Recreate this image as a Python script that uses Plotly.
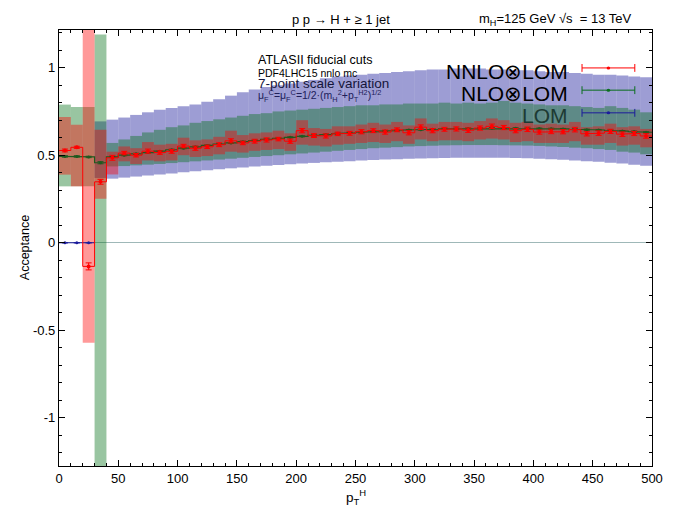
import numpy as np
import plotly.graph_objects as go

# ---------------- data ----------------
bin_edges = list(range(0, 510, 10))  # 0..500, 10 GeV bins
bin_centers = [e + 5 for e in bin_edges[:-1]]

nlo_center = [0.493, 0.493, 0.490, 0.457, 0.490, 0.500, 0.508, 0.515, 0.523, 0.531,
              0.540, 0.548, 0.556, 0.563, 0.570, 0.577, 0.584, 0.590, 0.596, 0.602,
              0.608, 0.613, 0.618, 0.623, 0.627, 0.631, 0.635, 0.638, 0.641, 0.644,
              0.646, 0.648, 0.650, 0.651, 0.652, 0.653, 0.654, 0.654, 0.654, 0.653,
              0.652, 0.651, 0.650, 0.648, 0.646, 0.644, 0.641, 0.638, 0.635, 0.631]
nlo_err = [0.004] * 3 + [0.006] + [0.003] * 46

nnlo_center = [0.527, 0.545, -0.135, 0.348, 0.485, 0.512, 0.500, 0.523, 0.515, 0.522,
               0.552, 0.540, 0.548, 0.560, 0.582, 0.570, 0.580, 0.587, 0.592, 0.580,
               0.640, 0.612, 0.610, 0.622, 0.625, 0.634, 0.640, 0.632, 0.645, 0.628,
               0.660, 0.640, 0.648, 0.650, 0.643, 0.655, 0.665, 0.658, 0.640, 0.648,
               0.632, 0.636, 0.634, 0.646, 0.622, 0.626, 0.636, 0.620, 0.624, 0.610]
nnlo_err = [0.008, 0.006, 0.020, 0.014, 0.014, 0.010, 0.010, 0.012, 0.010, 0.011,
            0.010, 0.012, 0.010, 0.011, 0.012, 0.010, 0.011, 0.012, 0.010, 0.012,
            0.012, 0.011, 0.012, 0.010, 0.011, 0.012, 0.011, 0.012, 0.011, 0.012,
            0.013, 0.012, 0.011, 0.012, 0.013, 0.012, 0.013, 0.012, 0.012, 0.013,
            0.012, 0.013, 0.012, 0.013, 0.012, 0.013, 0.012, 0.013, 0.012, 0.013]
nnlo_hi = [0.718, 0.674, 1.40, 0.646, 0.52, 0.55, 0.54, 0.575, 0.56, 0.565,
           0.60, 0.585, 0.59, 0.605, 0.64, 0.615, 0.625, 0.63, 0.64, 0.625,
           0.70, 0.655, 0.65, 0.665, 0.665, 0.675, 0.685, 0.675, 0.69, 0.67,
           0.71, 0.68, 0.69, 0.69, 0.685, 0.695, 0.71, 0.70, 0.685, 0.69,
           0.675, 0.68, 0.675, 0.69, 0.66, 0.665, 0.68, 0.66, 0.665, 0.65]
nnlo_lo = [0.389, 0.322, -0.571, 0.251, 0.39, 0.465, 0.45, 0.47, 0.465, 0.47,
           0.50, 0.49, 0.495, 0.505, 0.52, 0.515, 0.525, 0.53, 0.535, 0.525,
           0.56, 0.555, 0.55, 0.56, 0.565, 0.57, 0.575, 0.57, 0.58, 0.565,
           0.59, 0.58, 0.585, 0.585, 0.58, 0.59, 0.595, 0.59, 0.575, 0.58,
           0.57, 0.57, 0.57, 0.58, 0.56, 0.56, 0.57, 0.555, 0.56, 0.545]

nlo_hi = [0.789, 0.775, 0.775, 1.19, 0.57, 0.59, 0.61, 0.63, 0.645, 0.66,
          0.67, 0.685, 0.695, 0.705, 0.715, 0.725, 0.735, 0.74, 0.75, 0.755,
          0.76, 0.765, 0.77, 0.775, 0.78, 0.785, 0.785, 0.79, 0.79, 0.795,
          0.795, 0.795, 0.80, 0.795, 0.80, 0.795, 0.80, 0.81, 0.80, 0.795,
          0.79, 0.785, 0.785, 0.78, 0.775, 0.77, 0.78, 0.77, 0.76, 0.745]
nlo_lo = [0.322, 0.322, 0.322, -1.40, 0.436, 0.438, 0.442, 0.446, 0.45, 0.455,
          0.46, 0.465, 0.47, 0.475, 0.48, 0.485, 0.49, 0.495, 0.50, 0.505,
          0.51, 0.515, 0.52, 0.525, 0.53, 0.535, 0.54, 0.543, 0.546, 0.55,
          0.552, 0.554, 0.556, 0.557, 0.558, 0.558, 0.558, 0.557, 0.556, 0.555,
          0.553, 0.55, 0.547, 0.543, 0.54, 0.535, 0.53, 0.52, 0.515, 0.505]

lom_center = [0.0, 0.0, 0.0] + [None] * 47
lom_hi = [None, None, None, 0.693, 0.703, 0.715, 0.73, 0.745, 0.76, 0.77,
          0.78, 0.79, 0.805, 0.82, 0.84, 0.86, 0.875, 0.89, 0.90, 0.91,
          0.92, 0.93, 0.94, 0.95, 0.955, 0.96, 0.965, 0.97, 0.975, 0.98,
          0.985, 0.99, 0.99, 0.995, 0.995, 0.995, 0.99, 0.99, 0.985, 0.985,
          0.98, 0.975, 0.975, 0.97, 0.965, 0.96, 0.96, 0.955, 0.95, 0.945]
lom_lo = [None, None, None, 0.37, 0.366, 0.372, 0.378, 0.384, 0.39, 0.396,
          0.402, 0.408, 0.414, 0.42, 0.425, 0.43, 0.435, 0.44, 0.444, 0.448,
          0.452, 0.456, 0.46, 0.463, 0.466, 0.469, 0.472, 0.475, 0.477, 0.479,
          0.481, 0.483, 0.484, 0.485, 0.486, 0.486, 0.486, 0.485, 0.484, 0.482,
          0.48, 0.477, 0.474, 0.47, 0.466, 0.462, 0.457, 0.452, 0.446, 0.44]

# ---------------- helpers ----------------
def arr(v):
    return np.array([np.nan if x is None else x for x in v], dtype=float)


def steps(values):
    xs, ys = [], []
    for i, v in enumerate(values):
        xs += [bin_edges[i], bin_edges[i + 1]]
        ys += [v, v]
    return xs, ys


FONT = "Liberation Sans, Arial, Helvetica, sans-serif"
BLUE_BAND = "rgba(60,60,170,0.5)"
GREEN_BAND = "rgba(0,110,20,0.4)"
RED_BAND = "rgba(255,0,0,0.4)"
RED = "#ff0000"
GREEN = "#0a6e1e"
NAVY = "#1c1c9c"

fig = go.Figure()


def band(hi, lo, color):
    hi_a, lo_a = arr(hi), arr(lo)
    fig.add_trace(go.Bar(x=bin_centers, y=hi_a - lo_a, base=lo_a, width=10,
                         marker=dict(color=color, line=dict(width=0)),
                         showlegend=False, hoverinfo="skip"))


def central(values, err, color, msize, lw):
    xs, ys = steps(values)
    fig.add_trace(go.Scatter(x=xs, y=ys, mode="lines",
                             line=dict(color=color, width=lw),
                             showlegend=False, hoverinfo="skip"))
    fig.add_trace(go.Scatter(x=bin_centers, y=values, mode="markers",
                             marker=dict(color=color, size=msize),
                             error_y=dict(type="data", array=err, color=color,
                                          thickness=1, width=3),
                             showlegend=False))


# LOM
band(lom_hi, lom_lo, BLUE_BAND)
central(lom_center, [0.0] * 50, NAVY, 3, 1)
# NLO x LOM
band(nlo_hi, nlo_lo, GREEN_BAND)
central(nlo_center, nlo_err, "#1f5a1f", 3, 1.2)
# NNLO x LOM
band(nnlo_hi, nnlo_lo, RED_BAND)
central(nnlo_center, nnlo_err, RED, 4, 1)

fig.update_layout(
    width=675, height=525,
    margin=dict(l=59, r=21, t=30, b=59),
    paper_bgcolor="white", plot_bgcolor="white",
    barmode="overlay",
    font=dict(family=FONT, size=12, color="black"),
    showlegend=False,
)
fig.update_xaxes(
    range=[0, 500], tickvals=list(range(0, 501, 50)),
    ticks="inside", ticklen=6, tickcolor="black",
    minor=dict(dtick=10, ticks="inside", ticklen=3, tickcolor="black"),
    showline=True, linecolor="black", linewidth=1.2, mirror="ticks",
    showgrid=False, zeroline=False, tickfont=dict(size=13),
)
fig.update_yaxes(
    range=[-1.275, 1.215],
    tickvals=[-1, -0.5, 0, 0.5, 1], ticktext=["-1", "-0.5", "0", "0.5", "1"],
    ticks="inside", ticklen=6, tickcolor="black",
    minor=dict(dtick=0.1, ticks="inside", ticklen=3, tickcolor="black"),
    showline=True, linecolor="black", linewidth=1.2, mirror="ticks",
    showgrid=False, zeroline=True, zerolinecolor="#9fb8b8", zerolinewidth=1,
    tickfont=dict(size=13),
)


def note(text, x, y, size, xanchor="center", color="black", angle=0):
    return dict(text=text, x=x, y=y, xref="paper", yref="paper",
                xanchor=xanchor, yanchor="middle", textangle=angle,
                showarrow=False, font=dict(size=size, color=color))


ann = [
    note("p p → H + ≥ 1 jet", 0.476, 1.024, 13),
    note("m<sub>H</sub>=125 GeV √s  = 13 TeV", 0.837, 1.024, 13),
    note("ATLASII fiducial cuts", 0.333, 0.931, 12.5, "left"),
    note("PDF4LHC15 nnlo mc", 0.333, 0.902, 10.5, "left"),
    note("7-point scale variation", 0.333, 0.877, 13.5, "left", "#15153a"),
    note("μ<sub>F</sub><sup>C</sup>=μ<sub>F</sub><sup>C</sup>=1/2·(m<sub>H</sub><sup>2</sup>"
         "+p<sub>T</sub><sup>H2</sup>)<sup>1/2</sup>", 0.333, 0.848, 10.5, "left", "#20205a"),
    note("NNLO⊗LOM", 0.862, 0.904, 21, "right"),
    note("NLO⊗LOM", 0.862, 0.855, 21, "right"),
    note("LOM", 0.862, 0.803, 21, "right", "#1d3a33"),
    note("Acceptance", -0.057, 0.5, 12.5, "center", "black", -90),
    note("p<sub>T</sub><sup>H</sup>", 0.5, -0.07, 13.5),
]
fig.update_layout(annotations=ann)

# key samples (legend decorations)
shapes = []
for yk, col in [(0.913, RED), (0.862, GREEN), (0.810, NAVY)]:
    shapes.append(dict(type="line", xref="paper", yref="paper", x0=0.882, x1=0.971,
                       y0=yk, y1=yk, line=dict(color=col, width=1)))
    for xc in (0.882, 0.971):
        shapes.append(dict(type="line", xref="paper", yref="paper", x0=xc, x1=xc,
                           y0=yk - 0.009, y1=yk + 0.009, line=dict(color=col, width=1)))
    shapes.append(dict(type="circle", xref="paper", yref="paper", x0=0.9235, x1=0.9295,
                       y0=yk - 0.0035, y1=yk + 0.0035, fillcolor=col,
                       line=dict(color=col, width=0)))
fig.update_layout(shapes=shapes)

fig.write_html("out.html")
